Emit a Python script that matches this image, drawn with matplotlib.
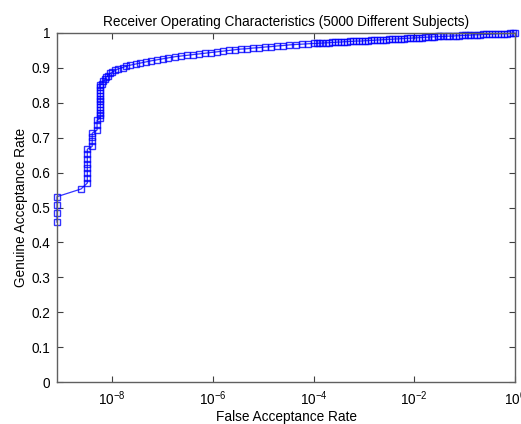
import matplotlib
matplotlib.use("Agg")
import matplotlib.pyplot as plt

plt.rcParams['font.family'] = ['Liberation Sans', 'DejaVu Sans']
plt.rcParams['mathtext.default'] = 'regular'

title = "Receiver Operating Characteristics (5000 Different Subjects)"
xlabel = "False Acceptance Rate"
ylabel = "Genuine Acceptance Rate"

# False acceptance rate (x) and genuine acceptance rate (y)
far = [8e-10, 8e-10, 8e-10, 8e-10,
       2.4e-9,
       3.2e-9, 3.2e-9, 3.2e-9, 3.2e-9, 3.2e-9, 3.2e-9, 3.2e-9, 3.2e-9,
       4.0e-9, 4.0e-9, 4.0e-9, 4.0e-9,
       5.0e-9, 5.0e-9, 5.0e-9,
       5.8e-9, 5.8e-9, 5.8e-9, 5.8e-9, 5.8e-9, 5.8e-9, 5.8e-9, 5.8e-9,
       5.8e-9, 5.8e-9, 5.8e-9, 5.8e-9, 5.8e-9,
       6.3e-9, 6.6e-9, 7.3e-9, 7.6e-9, 8.3e-9, 9.1e-9, 1.0e-8, 1.15e-8,
       1.3e-8, 1.6e-8, 1.9e-8, 2.3e-8, 2.9e-8, 3.6e-8, 4.6e-8, 5.8e-8,
       7.6e-8, 1.0e-7, 1.3e-7, 1.75e-7, 2.3e-7, 3.0e-7, 4.0e-7, 5.2e-7,
       6.9e-7, 9.1e-7, 1.2e-6, 1.6e-6, 2.1e-6, 2.7e-6, 3.6e-6, 4.8e-6,
       6.3e-6, 8.3e-6, 1.1e-5, 1.45e-5, 1.9e-5, 2.5e-5, 3.3e-5, 4.4e-5,
       5.8e-5, 7.6e-5, 1.0e-4, 1.15e-4, 1.3e-4, 1.5e-4, 1.75e-4, 2.0e-4,
       2.3e-4, 2.6e-4, 3.0e-4, 3.5e-4, 4.0e-4, 4.6e-4, 5.2e-4, 6.0e-4,
       6.9e-4, 8.0e-4, 9.1e-4, 1.05e-3, 1.2e-3, 1.4e-3, 1.6e-3, 1.8e-3,
       2.1e-3, 2.4e-3, 2.7e-3, 3.1e-3, 3.6e-3, 4.2e-3, 4.8e-3, 5.5e-3,
       6.3e-3, 7.2e-3, 8.3e-3, 9.6e-3, 1.1e-2, 1.25e-2, 1.45e-2, 1.65e-2,
       1.9e-2, 2.2e-2, 2.5e-2, 2.9e-2, 3.3e-2, 3.8e-2, 4.4e-2, 5.0e-2,
       5.8e-2, 6.6e-2, 7.6e-2, 8.7e-2, 0.10, 0.115, 0.13, 0.15, 0.175,
       0.20, 0.23, 0.26, 0.30, 0.35, 0.40, 0.46, 0.52, 0.60, 0.69, 0.80,
       0.91, 1.0]
gar = [0.458, 0.483, 0.507, 0.531,
       0.553,
       0.570, 0.584, 0.598, 0.612, 0.626, 0.640, 0.654, 0.667,
       0.675, 0.690, 0.703, 0.713,
       0.722, 0.736, 0.750,
       0.756, 0.764, 0.772, 0.780, 0.788, 0.796, 0.804, 0.812,
       0.820, 0.828, 0.836, 0.844, 0.851,
       0.855, 0.862, 0.868, 0.874, 0.878, 0.884, 0.888, 0.893,
       0.897, 0.901, 0.905, 0.908, 0.911, 0.914, 0.917, 0.920,
       0.923, 0.926, 0.929, 0.932, 0.934, 0.936, 0.938, 0.940,
       0.942, 0.944, 0.946, 0.948, 0.950, 0.952, 0.954, 0.955,
       0.957, 0.958, 0.960, 0.961, 0.963, 0.964, 0.966, 0.967,
       0.968, 0.969, 0.970, 0.970, 0.971, 0.971, 0.972, 0.972,
       0.973, 0.973, 0.974, 0.974, 0.975, 0.975, 0.976, 0.976,
       0.977, 0.977, 0.977, 0.978, 0.978, 0.979, 0.979, 0.980,
       0.980, 0.981, 0.981, 0.982, 0.982, 0.983, 0.983, 0.984,
       0.984, 0.985, 0.985, 0.986, 0.986, 0.987, 0.987, 0.988,
       0.988, 0.989, 0.989, 0.990, 0.990, 0.990, 0.991, 0.991,
       0.991, 0.992, 0.992, 0.993, 0.993, 0.994, 0.994, 0.995, 0.995,
       0.995, 0.996, 0.996, 0.996, 0.997, 0.997, 0.998, 0.998, 0.998, 0.998, 0.999,
       0.999, 1.0]

xticks = [1e-8, 1e-6, 1e-4, 1e-2, 1e0]
xticklabels = [r'$10^{-8}$', r'$10^{-6}$', r'$10^{-4}$', r'$10^{-2}$', r'$10^{0}$']
yticks = [0, 0.1, 0.2, 0.3, 0.4, 0.5, 0.6, 0.7, 0.8, 0.9, 1.0]
yticklabels = ['0', '0.1', '0.2', '0.3', '0.4', '0.5', '0.6', '0.7', '0.8', '0.9', '1']

fig = plt.figure(figsize=(5.21, 4.24), dpi=100)
ax = fig.add_axes([57/521, 42/424, 458/521, 349/424])

ax.plot(far, gar, color='#0000ff', alpha=0.8, linewidth=0.9,
        marker='s', markersize=4.3, markerfacecolor='none',
        markeredgecolor='#0000ff', markeredgewidth=1.0, clip_on=False)

ax.set_xscale('log')
ax.set_xlim(8e-10, 1)
ax.set_ylim(0, 1)
ax.set_xticks(xticks)
ax.set_xticklabels(xticklabels)
ax.set_yticks(yticks)
ax.set_yticklabels(yticklabels)
ax.minorticks_off()
ax.tick_params(direction='in', top=True, right=True, length=4, width=0.8,
               color='#404040', labelsize=9.8, pad=5)
for s in ax.spines.values():
    s.set_color('#606060')
    s.set_linewidth(1.0)

ax.set_title(title, fontsize=9.8, pad=5)
ax.set_xlabel(xlabel, fontsize=9.8, labelpad=2)
ax.set_ylabel(ylabel, fontsize=9.8, labelpad=2)

fig.savefig('out.png', dpi=100)
